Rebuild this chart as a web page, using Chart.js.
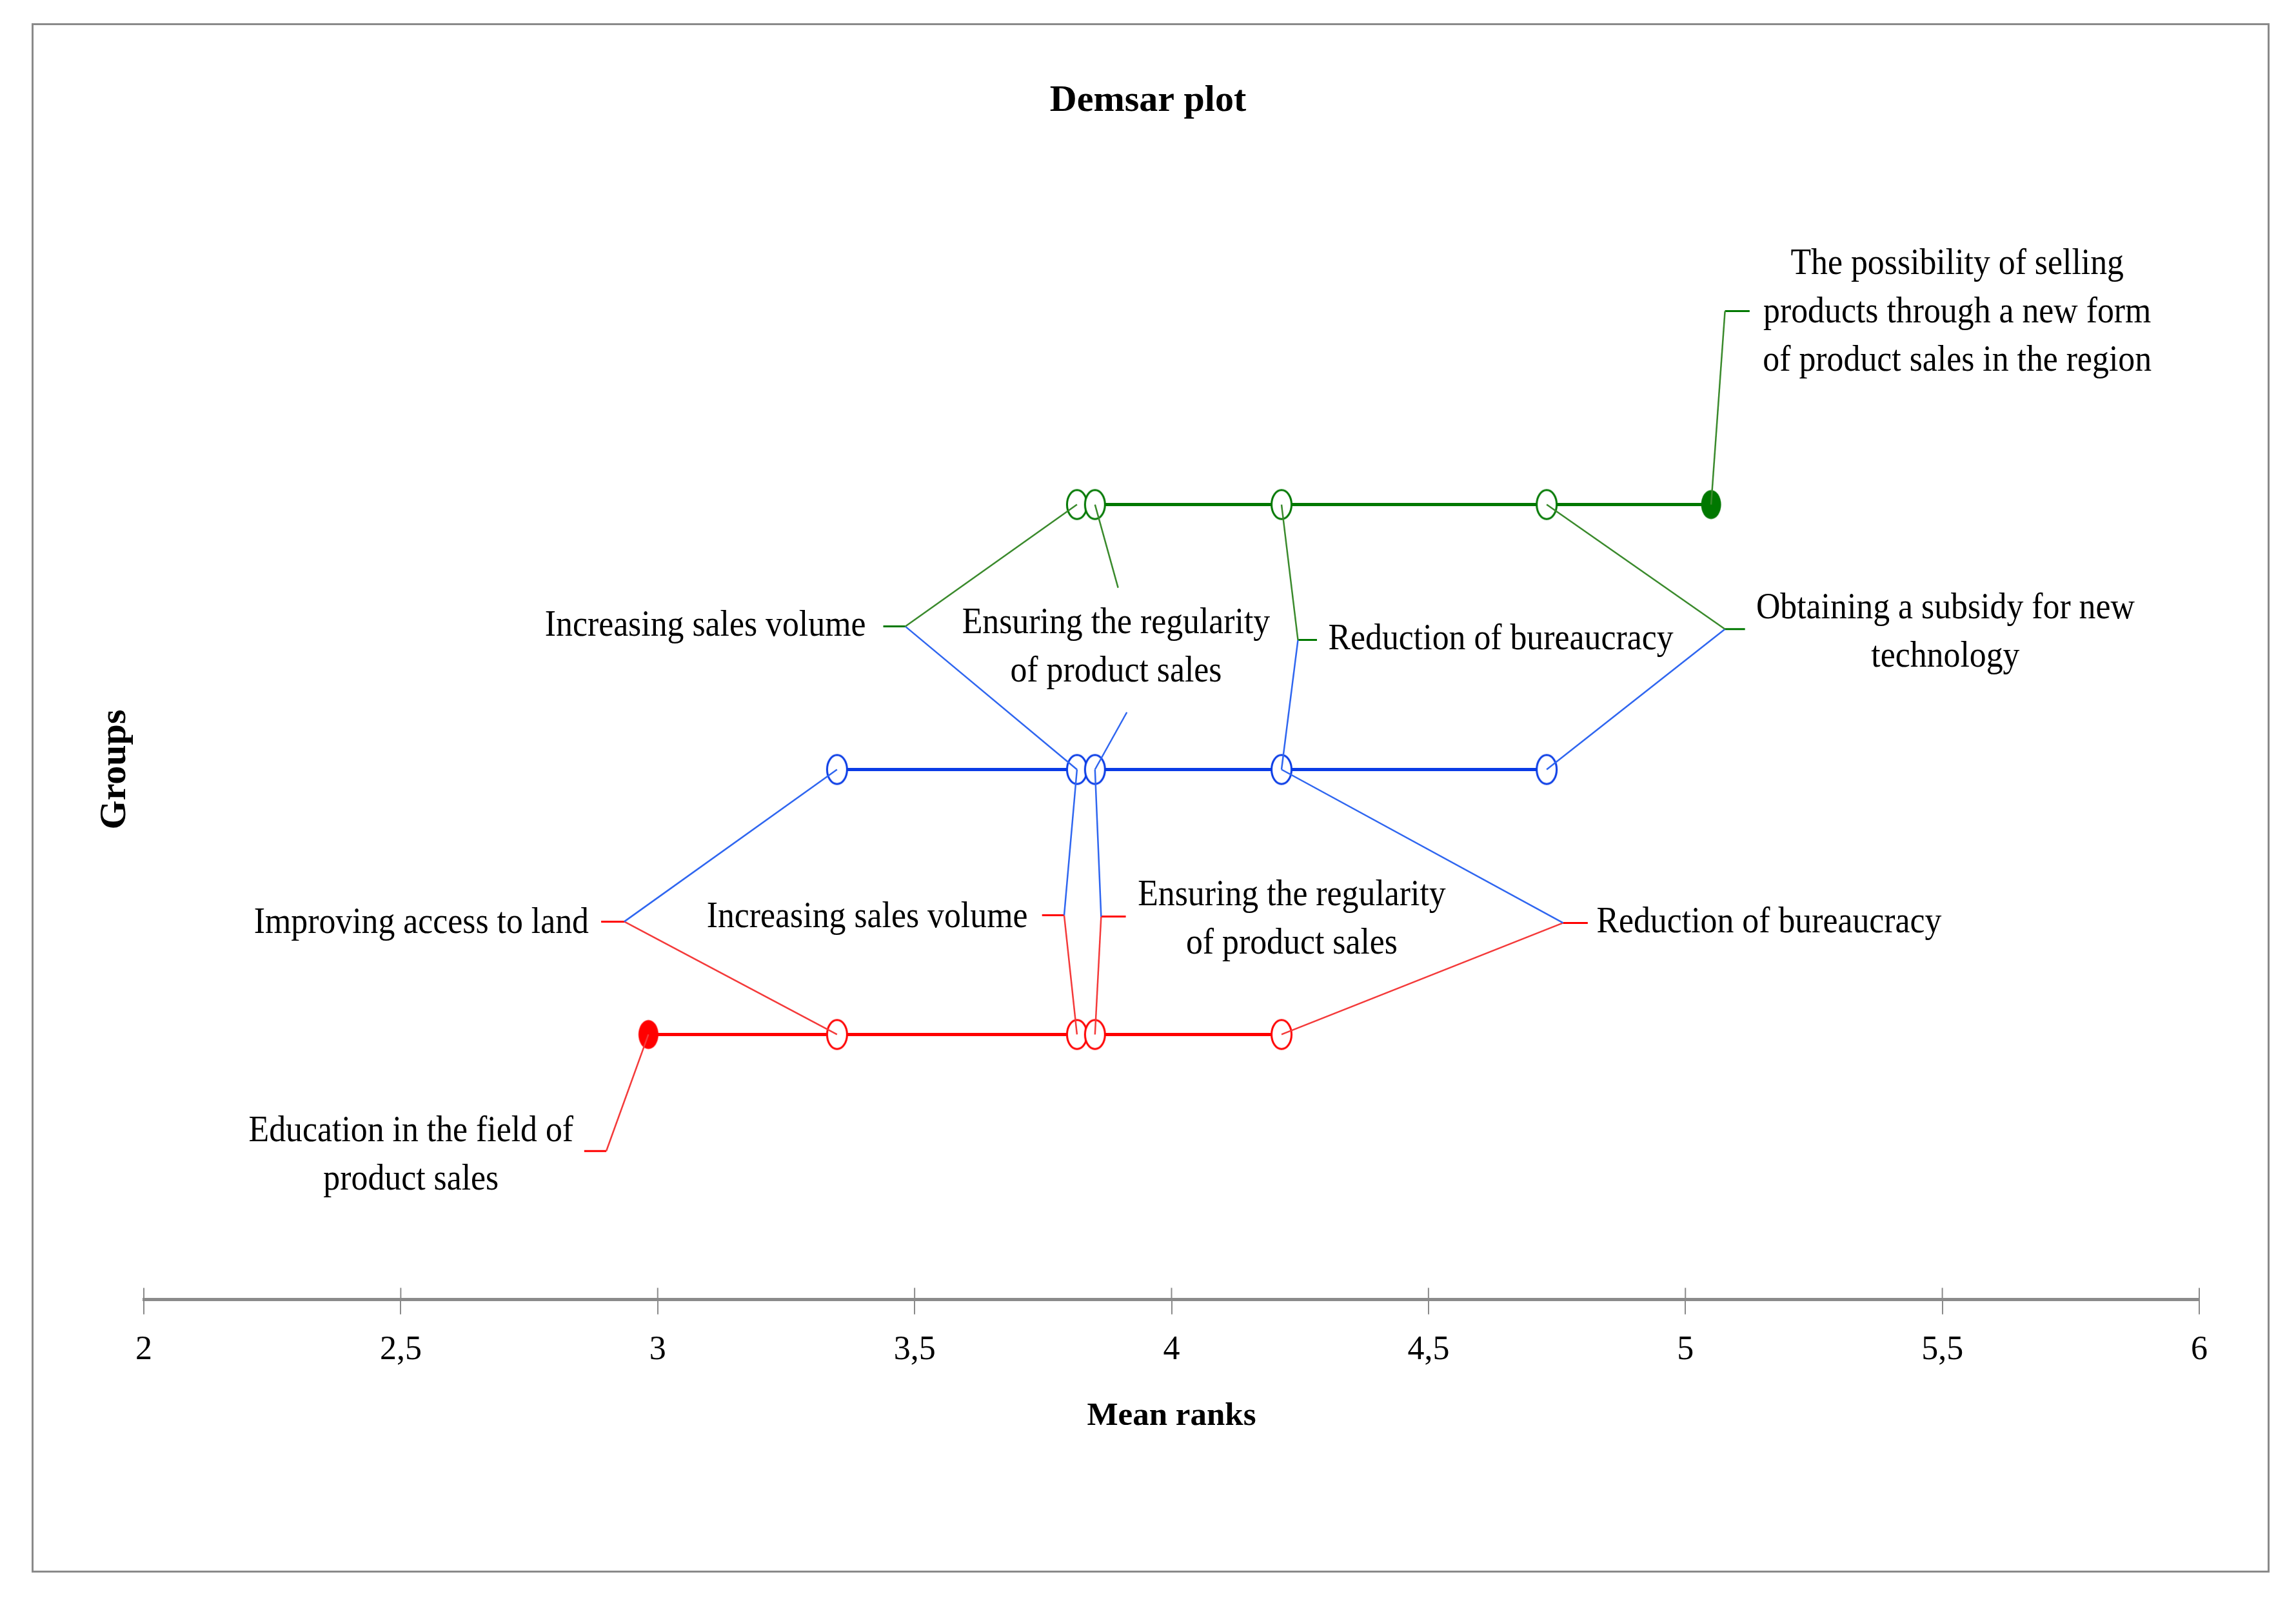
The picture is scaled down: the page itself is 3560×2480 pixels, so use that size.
<!DOCTYPE html>
<html>
<head>
<meta charset="utf-8">
<title>Demsar plot</title>
<script src="https://cdn.jsdelivr.net/npm/chart.js@4.4.0/dist/chart.umd.min.js"></script>
<style>
  html, body { margin: 0; padding: 0; background: #fff; }
  #wrap { position: relative; width: 3560px; height: 2480px; }
  #frame { position: absolute; left: 49px; top: 36px; width: 3464px; height: 2397px; border: 3px solid #8a8a8a; }
  #demsar { position: absolute; left: 0; top: 0; }
</style>
</head>
<body>
<div id="wrap">
  <div id="frame"></div>
  <canvas id="demsar" width="3560" height="2480"></canvas>
</div>
<script>
// factors and their mean ranks
var factors = [
  'Education in the field of product sales',
  'Improving access to land',
  'Increasing sales volume',
  'Ensuring the regularity of product sales',
  'Reduction of bureaucracy',
  'Obtaining a subsidy for new technology',
  'The possibility of selling products through a new form of product sales in the region'
];
var meanRanks = [2.982, 3.349, 3.816, 3.851, 4.214, 4.730, 5.050];

// groups (bottom to top): level on the y axis, members, members drawn as filled dots
var groupLevels = [1, 2, 3];
var groupMembers = [[0, 1, 2, 3, 4], [1, 2, 3, 4, 5], [2, 3, 4, 5, 6]];
var groupFilled = [[0], [], [6]];

var tickLabels = ['2', '2,5', '3', '3,5', '4', '4,5', '5', '5,5', '6'];

// colours
var rowColors = ['#ff0000', '#0a3ce6', '#007800'];
var legColors = ['#f43a3a', '#2f66f0', '#3a8a2c'];

// callouts: text placement and leader lines, in axis units
var callouts = [
  { lines: ['Increasing sales volume'], align: 'right', text: [3.405, 2.54],
    stub: [3.439, 3.482, 2.54], stubGroup: 2, factor: 2,
    legs: [{ from: [3.482, 2.54], group: 2 }, { from: [3.482, 2.54], group: 1 }] },
  { lines: ['Ensuring the regularity', 'of product sales'], align: 'center', text: [3.892, 2.46], factor: 3,
    legs: [{ from: [3.896, 2.686], group: 2 }, { from: [3.913, 2.216], group: 1 }] },
  { lines: ['Reduction of bureaucracy'], align: 'left', text: [4.305, 2.489],
    stub: [4.246, 4.283, 2.489], stubGroup: 2, factor: 4,
    legs: [{ from: [4.246, 2.489], group: 2 }, { from: [4.246, 2.489], group: 1 }] },
  { lines: ['Obtaining a subsidy for new', 'technology'], align: 'center', text: [5.506, 2.516],
    stub: [5.077, 5.116, 2.53], stubGroup: 2, factor: 5,
    legs: [{ from: [5.077, 2.53], group: 2 }, { from: [5.077, 2.53], group: 1 }] },
  { lines: ['The possibility of selling', 'products through a new form', 'of product sales in the region'],
    align: 'center', text: [5.529, 3.723],
    stub: [5.077, 5.125, 3.73], stubGroup: 2, factor: 6,
    legs: [{ from: [5.077, 3.73], group: 2 }] },
  { lines: ['Improving access to land'], align: 'right', text: [2.866, 1.42],
    stub: [2.89, 2.935, 1.426], stubGroup: 0, factor: 1,
    legs: [{ from: [2.935, 1.426], group: 1 }, { from: [2.935, 1.426], group: 0 }] },
  { lines: ['Increasing sales volume'], align: 'right', text: [3.72, 1.44],
    stub: [3.748, 3.791, 1.45], stubGroup: 0, factor: 2,
    legs: [{ from: [3.791, 1.45], group: 1 }, { from: [3.791, 1.45], group: 0 }] },
  { lines: ['Ensuring the regularity', 'of product sales'], align: 'center', text: [4.234, 1.433],
    stub: [3.863, 3.911, 1.445], stubGroup: 0, factor: 3,
    legs: [{ from: [3.863, 1.445], group: 1 }, { from: [3.863, 1.445], group: 0 }] },
  { lines: ['Reduction of bureaucracy'], align: 'left', text: [4.827, 1.421],
    stub: [4.762, 4.81, 1.421], stubGroup: 0, factor: 4,
    legs: [{ from: [4.762, 1.421], group: 1 }, { from: [4.762, 1.421], group: 0 }] },
  { lines: ['Education in the field of', 'product sales'], align: 'center', text: [2.52, 0.542],
    stub: [2.857, 2.9, 0.56], stubGroup: 0, factor: 0,
    legs: [{ from: [2.9, 0.56], group: 0 }] }
];

// tall ellipse markers like the original
function ellipseMarker(color, filled) {
  var c = document.createElement('canvas');
  c.width = 38;
  c.height = 52;
  var g = c.getContext('2d');
  g.beginPath();
  g.ellipse(19, 26, 15.5, 22.5, 0, 0, Math.PI * 2);
  if (filled) {
    g.fillStyle = color;
    g.fill();
  } else {
    g.fillStyle = '#ffffff';
    g.fill();
    g.strokeStyle = color;
    g.lineWidth = 3;
    g.stroke();
  }
  return c;
}

var datasets = [];

groupLevels.forEach(function (level, gi) {
  var members = groupMembers[gi];
  var open = ellipseMarker(rowColors[gi], false);
  var full = ellipseMarker(rowColors[gi], true);
  datasets.push({
    label: 'Group ' + level,
    data: members.map(function (i) { return { x: meanRanks[i], y: level }; }),
    showLine: true,
    borderColor: rowColors[gi],
    backgroundColor: rowColors[gi],
    borderWidth: 5,
    pointStyle: members.map(function (i) { return groupFilled[gi].indexOf(i) >= 0 ? full : open; }),
    pointRadius: 20,
    order: 2
  });
});

callouts.forEach(function (c) {
  c.legs.forEach(function (leg) {
    datasets.push({
      data: [{ x: leg.from[0], y: leg.from[1] }, { x: meanRanks[c.factor], y: groupLevels[leg.group] }],
      showLine: true,
      borderColor: legColors[leg.group],
      borderWidth: 2.5,
      pointRadius: 0,
      order: 1
    });
  });
  if (c.stub) {
    datasets.push({
      data: [{ x: c.stub[0], y: c.stub[2] }, { x: c.stub[1], y: c.stub[2] }],
      showLine: true,
      borderColor: rowColors[c.stubGroup],
      borderWidth: 3,
      pointRadius: 0,
      order: 1
    });
  }
});

// callout texts and the upper half of the axis ticks
var calloutText = {
  id: 'calloutText',
  afterDraw: function (chart) {
    var ctx = chart.ctx;
    var xs = chart.scales.x, ys = chart.scales.y;
    var lineGap = 75;

    ctx.save();
    ctx.strokeStyle = '#8a8a8a';
    ctx.lineWidth = 2;
    xs.ticks.forEach(function (t) {
      var px = xs.getPixelForValue(t.value);
      ctx.beginPath();
      ctx.moveTo(px, xs.top - 18);
      ctx.lineTo(px, xs.top);
      ctx.stroke();
    });
    ctx.restore();

    ctx.save();
    ctx.fillStyle = '#000';
    ctx.font = '56px "Liberation Serif", "Times New Roman", serif';
    ctx.textBaseline = 'middle';
    callouts.forEach(function (c) {
      var px = xs.getPixelForValue(c.text[0]);
      var py = ys.getPixelForValue(c.text[1]);
      var first = py - (c.lines.length - 1) * lineGap / 2;
      ctx.textAlign = c.align;
      c.lines.forEach(function (line, k) {
        ctx.save();
        ctx.translate(px, first + k * lineGap);
        ctx.scale(0.925, 1);
        ctx.fillText(line, 0, 0);
        ctx.restore();
      });
    });
    ctx.restore();
  }
};

var ctx = document.getElementById('demsar').getContext('2d');
var demsarChart = new Chart(ctx, {
  type: 'scatter',
  data: { datasets: datasets },
  options: {
    responsive: false,
    animation: false,
    events: [],
    devicePixelRatio: 1,
    layout: { padding: { left: 150, right: 150, top: 0, bottom: 253 } },
    plugins: {
      legend: { display: false },
      tooltip: { enabled: false },
      title: {
        display: true,
        text: 'Demsar plot',
        color: '#000',
        font: { family: '"Liberation Serif", serif', size: 58, weight: 'bold' },
        padding: { top: 122, bottom: 180 }
      }
    },
    scales: {
      x: {
        type: 'linear',
        min: 2,
        max: 6,
        ticks: {
          stepSize: 0.5,
          color: '#000',
          padding: 25,
          font: { family: '"Liberation Serif", serif', size: 52 },
          callback: function (value, index) { return tickLabels[index]; }
        },
        grid: { drawOnChartArea: false, tickLength: 23, color: '#8a8a8a', lineWidth: 2 },
        border: { color: '#8a8a8a', width: 5 },
        title: {
          display: true,
          text: 'Mean ranks',
          color: '#000',
          font: { family: '"Liberation Serif", serif', size: 51, weight: 'bold' },
          padding: { top: 15, bottom: 0 }
        }
      },
      y: {
        type: 'linear',
        min: 0,
        max: 4,
        ticks: { display: false },
        grid: { display: false },
        border: { display: false },
        title: {
          display: true,
          text: 'Groups',
          color: '#000',
          font: { family: '"Liberation Serif", serif', size: 58, weight: 'bold', lineHeight: 1 },
          padding: { top: 0, bottom: 7 }
        }
      }
    }
  },
  plugins: [calloutText]
});
</script>
</body>
</html>
